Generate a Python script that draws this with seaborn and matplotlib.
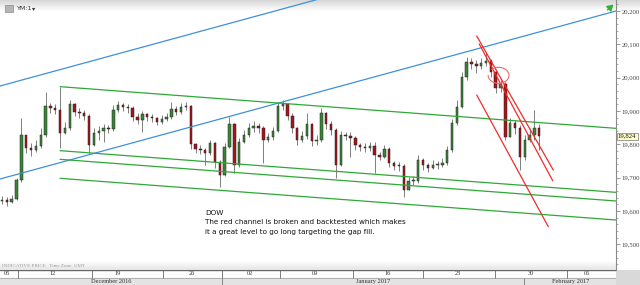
import numpy as np
import pandas as pd
import matplotlib
matplotlib.use("Agg")
import matplotlib.pyplot as plt
import seaborn as sns
from matplotlib.patches import Rectangle, Arc
from matplotlib.colors import LinearSegmentedColormap

# ---------------- data ----------------
first_open = 19630
bar_close = [19633, 19627, 19636, 19693, 19828, 19789, 19783, 19795, 19828, 19915,
             19909, 19903, 19834, 19849, 19921, 19897, 19894, 19885, 19798, 19834,
             19840, 19849, 19846, 19903, 19918, 19912, 19909, 19882, 19873, 19891,
             19882, 19879, 19867, 19876, 19882, 19906, 19897, 19912, 19915, 19801,
             19786, 19783, 19774, 19804, 19747, 19708, 19792, 19861, 19738, 19807,
             19828, 19849, 19855, 19849, 19813, 19822, 19840, 19915, 19921, 19885,
             19849, 19813, 19825, 19861, 19810, 19813, 19894, 19861, 19843, 19738,
             19828, 19825, 19819, 19798, 19792, 19789, 19795, 19768, 19762, 19786,
             19744, 19735, 19735, 19663, 19690, 19690, 19753, 19738, 19729, 19738,
             19738, 19744, 19783, 19864, 19912, 20002, 20047, 20041, 20035, 20044,
             20050, 20017, 19969, 19981, 19822, 19864, 19849, 19762, 19813, 19828,
             19849, 19824]
bar_high = [19645, 19642, 19648, 19700, 19879, 19819, 19804, 19813, 19849, 19957,
            19924, 19921, 19972, 19867, 19933, 19924, 19909, 19903, 19891, 19849,
            19855, 19861, 19858, 19918, 19930, 19924, 19921, 19915, 19894, 19900,
            19894, 19891, 19882, 19888, 19894, 19927, 19915, 19924, 19927, 19918,
            19804, 19798, 19789, 19813, 19807, 19753, 19804, 19882, 19864, 19819,
            19843, 19864, 19870, 19864, 19855, 19834, 19852, 19924, 19933, 19924,
            19894, 19852, 19840, 19894, 19864, 19828, 19909, 19897, 19870, 19849,
            19840, 19837, 19837, 19825, 19804, 19804, 19807, 19807, 19777, 19798,
            19792, 19750, 19747, 19741, 19702, 19705, 19768, 19759, 19744, 19753,
            19750, 19759, 19795, 19876, 19933, 20017, 20062, 20059, 20053, 20059,
            20074, 20056, 20023, 19993, 19987, 19879, 19873, 19858, 19828, 19849,
            19903, 19861]
bar_low = [19621, 19615, 19624, 19633, 19687, 19774, 19765, 19777, 19789, 19822,
           19894, 19891, 19790, 19831, 19843, 19885, 19879, 19873, 19774, 19795,
           19813, 19807, 19834, 19840, 19897, 19900, 19894, 19870, 19861, 19837,
           19870, 19867, 19858, 19861, 19870, 19876, 19888, 19891, 19903, 19786,
           19774, 19771, 19738, 19768, 19729, 19672, 19705, 19789, 19714, 19732,
           19804, 19822, 19837, 19834, 19744, 19807, 19813, 19837, 19903, 19873,
           19834, 19798, 19807, 19816, 19795, 19798, 19807, 19846, 19828, 19699,
           19735, 19813, 19762, 19783, 19780, 19777, 19780, 19714, 19753, 19759,
           19732, 19723, 19720, 19642, 19663, 19678, 19684, 19723, 19717, 19726,
           19726, 19732, 19738, 19777, 19858, 19909, 19993, 20026, 20014, 20026,
           20035, 20002, 19954, 19957, 19813, 19822, 19831, 19723, 19753, 19807,
           19813, 19783]
last_price = 19824

# trend lines: (bar0, price0, bar1, price1)
blue_lines = [(-0.41, 19696, 126.86, 20200),
              (-0.41, 19975, 126.86, 20479)]
green_lines = [(12.0, 19973, 126.86, 19848),
               (12.0, 19781, 126.86, 19656),
               (12.0, 19755, 126.86, 19630),
               (12.0, 19698, 126.86, 19573)]
red_lines = [(98.08, 20125, 113.9, 19723),
             (98.6, 20101, 113.78, 19691),
             (98.08, 19948, 112.87, 19553)]
circle_center = (102.6, 20007)
circle_size = (4.3, 48)

y_ticks = [19500, 19600, 19700, 19800, 19900, 20000, 20100, 20200]
week_seps = [3.31, 18.6, 33.26, 45.45, 57.4, 72.5, 87.0, 101.9, 116.7]
month_seps = [45.45, 107.9]
day_pos = [1.03, 10.5, 23.97, 39.26, 51.2, 64.7, 79.75, 94.2, 109.3, 120.9]
day_labels = ['05', '12', '19', '26', '02', '09', '16', '23', '30', '06']
month_pos = [22.5, 76.65, 117.4]
month_labels = ['December 2016', 'January 2017', 'February 2017']
note_title = 'DOW'
note_lines = ['The red channel is broken and backtested which makes',
              'it a great level to go long targeting the gap fill.']

# ---------------- style ----------------
sns.set_theme(style="white")
plt.rcParams['font.family'] = ['DejaVu Sans']

W, H = 640, 285
fig = plt.figure(figsize=(6.4, 2.85), dpi=100)
fig.patch.set_facecolor('white')

bg = fig.add_axes([0, 0, 1, 1], zorder=0)
ax = fig.add_axes([0, 15 / H, 616 / W, 270 / H], zorder=1)
axd = fig.add_axes([0, 0, 616 / W, 15 / H], zorder=1)
ax.patch.set_alpha(0)

# background decoration (pixel coords)
top_cm = LinearSegmentedColormap.from_list('t', ['#d6d6d6', '#ffffff'])
bg.imshow(np.linspace(0, 1, 60).reshape(-1, 1), extent=[0, 640, 11, 0],
          cmap=top_cm, aspect='auto', zorder=0)
bot_cm = LinearSegmentedColormap.from_list('b', ['#ffffff', '#e4e4e4'])
bg.imshow(np.linspace(0, 1, 60).reshape(-1, 1), extent=[0, 616, 270, 261],
          cmap=bot_cm, aspect='auto', zorder=0)
bg.add_patch(Rectangle((616, 270), 24, 15, fc='#d9d9d9', ec='none'))
bg.add_patch(Rectangle((5, 4.5), 7.5, 7.5, fc='#b5b5b5', ec='#8a8a8a', lw=0.5))
bg.text(16, 8.5, 'YM:1', fontsize=4.6, va='center', ha='left', color='#333')
bg.text(31.5, 8.5, '▾', fontsize=4.6, va='center', ha='left', color='#333')
bg.text(2, 266, 'INDICATIVE PRICE   Time Zone: GMT', fontsize=3.6,
        family='Liberation Serif', va='center', ha='left', color='#9a9a9a')
bg.annotate('', xy=(613.5, 4.5), xytext=(607.5, 10.0),
            arrowprops=dict(arrowstyle='-|>,head_width=0.18,head_length=0.3',
                            color='#35b035', lw=1.0, shrinkA=0, shrinkB=0))
bg.text(205, 213, note_title, fontsize=5.2, va='center', ha='left', color='#111')
for k, line in enumerate(note_lines):
    bg.text(205, 222.5 + 9.3 * k, line, fontsize=5.2, va='center', ha='left', color='#111')
bg.set_xlim(0, 640)
bg.set_ylim(285, 0)
bg.axis('off')

# ---------------- candles ----------------
df = pd.DataFrame({'close': bar_close, 'high': bar_high, 'low': bar_low})
df['open'] = df['close'].shift(1).fillna(first_open)
df['high'] = df[['high', 'open', 'close']].max(axis=1)
df['low'] = df[['low', 'open', 'close']].min(axis=1)
df['bar'] = np.arange(len(df))
up = df['close'] >= df['open']

ax.vlines(df['bar'], df['low'], df['high'], color='#6a6a6a', lw=0.6, zorder=2)
ax.bar(df['bar'], (df['close'] - df['open']).abs().clip(lower=2),
       bottom=np.minimum(df['open'], df['close']), width=0.5,
       color=np.where(up, '#3a8636', '#a8141a'), edgecolor='#222222',
       linewidth=0.35, zorder=3)

for x0, y0, x1, y1 in blue_lines:
    ax.plot([x0, x1], [y0, y1], color='#3f8fdc', lw=0.9, zorder=4)
for x0, y0, x1, y1 in green_lines:
    ax.plot([x0, x1], [y0, y1], color='#2fa838', lw=0.9, zorder=4)
for x0, y0, x1, y1 in red_lines:
    ax.plot([x0, x1], [y0, y1], color='#f52a2a', lw=0.9, zorder=4)
ax.add_patch(Arc(circle_center, circle_size[0], circle_size[1], theta1=150, theta2=455,
                 color='#f06a6a', lw=0.8, zorder=5))

ax.set_xlim(-2 / 4.84, 614 / 4.84)
ax.set_ylim(19423, 20233)
ax.set_xticks([])
ax.yaxis.tick_right()
ax.set_yticks(y_ticks)
ax.set_yticklabels([f'{v:,}' for v in y_ticks], family='Liberation Serif')
ax.set_yticks(np.arange(19440, 20232, 20), minor=True)
ax.tick_params(axis='y', which='major', length=3, width=0.6, color='#8a8a8a',
               labelsize=4.8, labelcolor='#444444', pad=1, right=True)
ax.tick_params(axis='y', which='minor', length=1.6, width=0.5, color='#8a8a8a', right=True)
for s in ['top', 'left', 'bottom']:
    ax.spines[s].set_visible(False)
ax.spines['right'].set_color('#8a8a8a')
ax.spines['right'].set_linewidth(0.8)
ax.grid(False)

ax.text(1.003, last_price, f'{last_price:,}', transform=ax.get_yaxis_transform(),
        va='center', ha='left', fontsize=4.8, family='Liberation Serif', color='#111',
        bbox=dict(boxstyle='square,pad=0.2', fc='#ffffcc', ec='#777777', lw=0.5),
        zorder=6, clip_on=False)

# ---------------- date axis ----------------
axd.set_xlim(ax.get_xlim())
axd.set_ylim(0, 2)
axd.axhspan(0, 1, color='#e3e3e3', zorder=0)
axd.axhline(2, color='#666666', lw=1.0)
axd.axhline(1, color='#9a9a9a', lw=0.5)
axd.vlines(week_seps, 1, 2, color='#666666', lw=0.6)
axd.vlines(month_seps, 0, 1, color='#777777', lw=0.6)
for p, t in zip(day_pos, day_labels):
    axd.text(p, 1.5, t, ha='center', va='center', fontsize=4.6,
             family='Liberation Serif', color='#333')
for p, t in zip(month_pos, month_labels):
    axd.text(p, 0.5, t, ha='center', va='center', fontsize=4.6,
             family='Liberation Serif', color='#333')
axd.axis('off')

fig.savefig('out.png', dpi=100, facecolor='white')
